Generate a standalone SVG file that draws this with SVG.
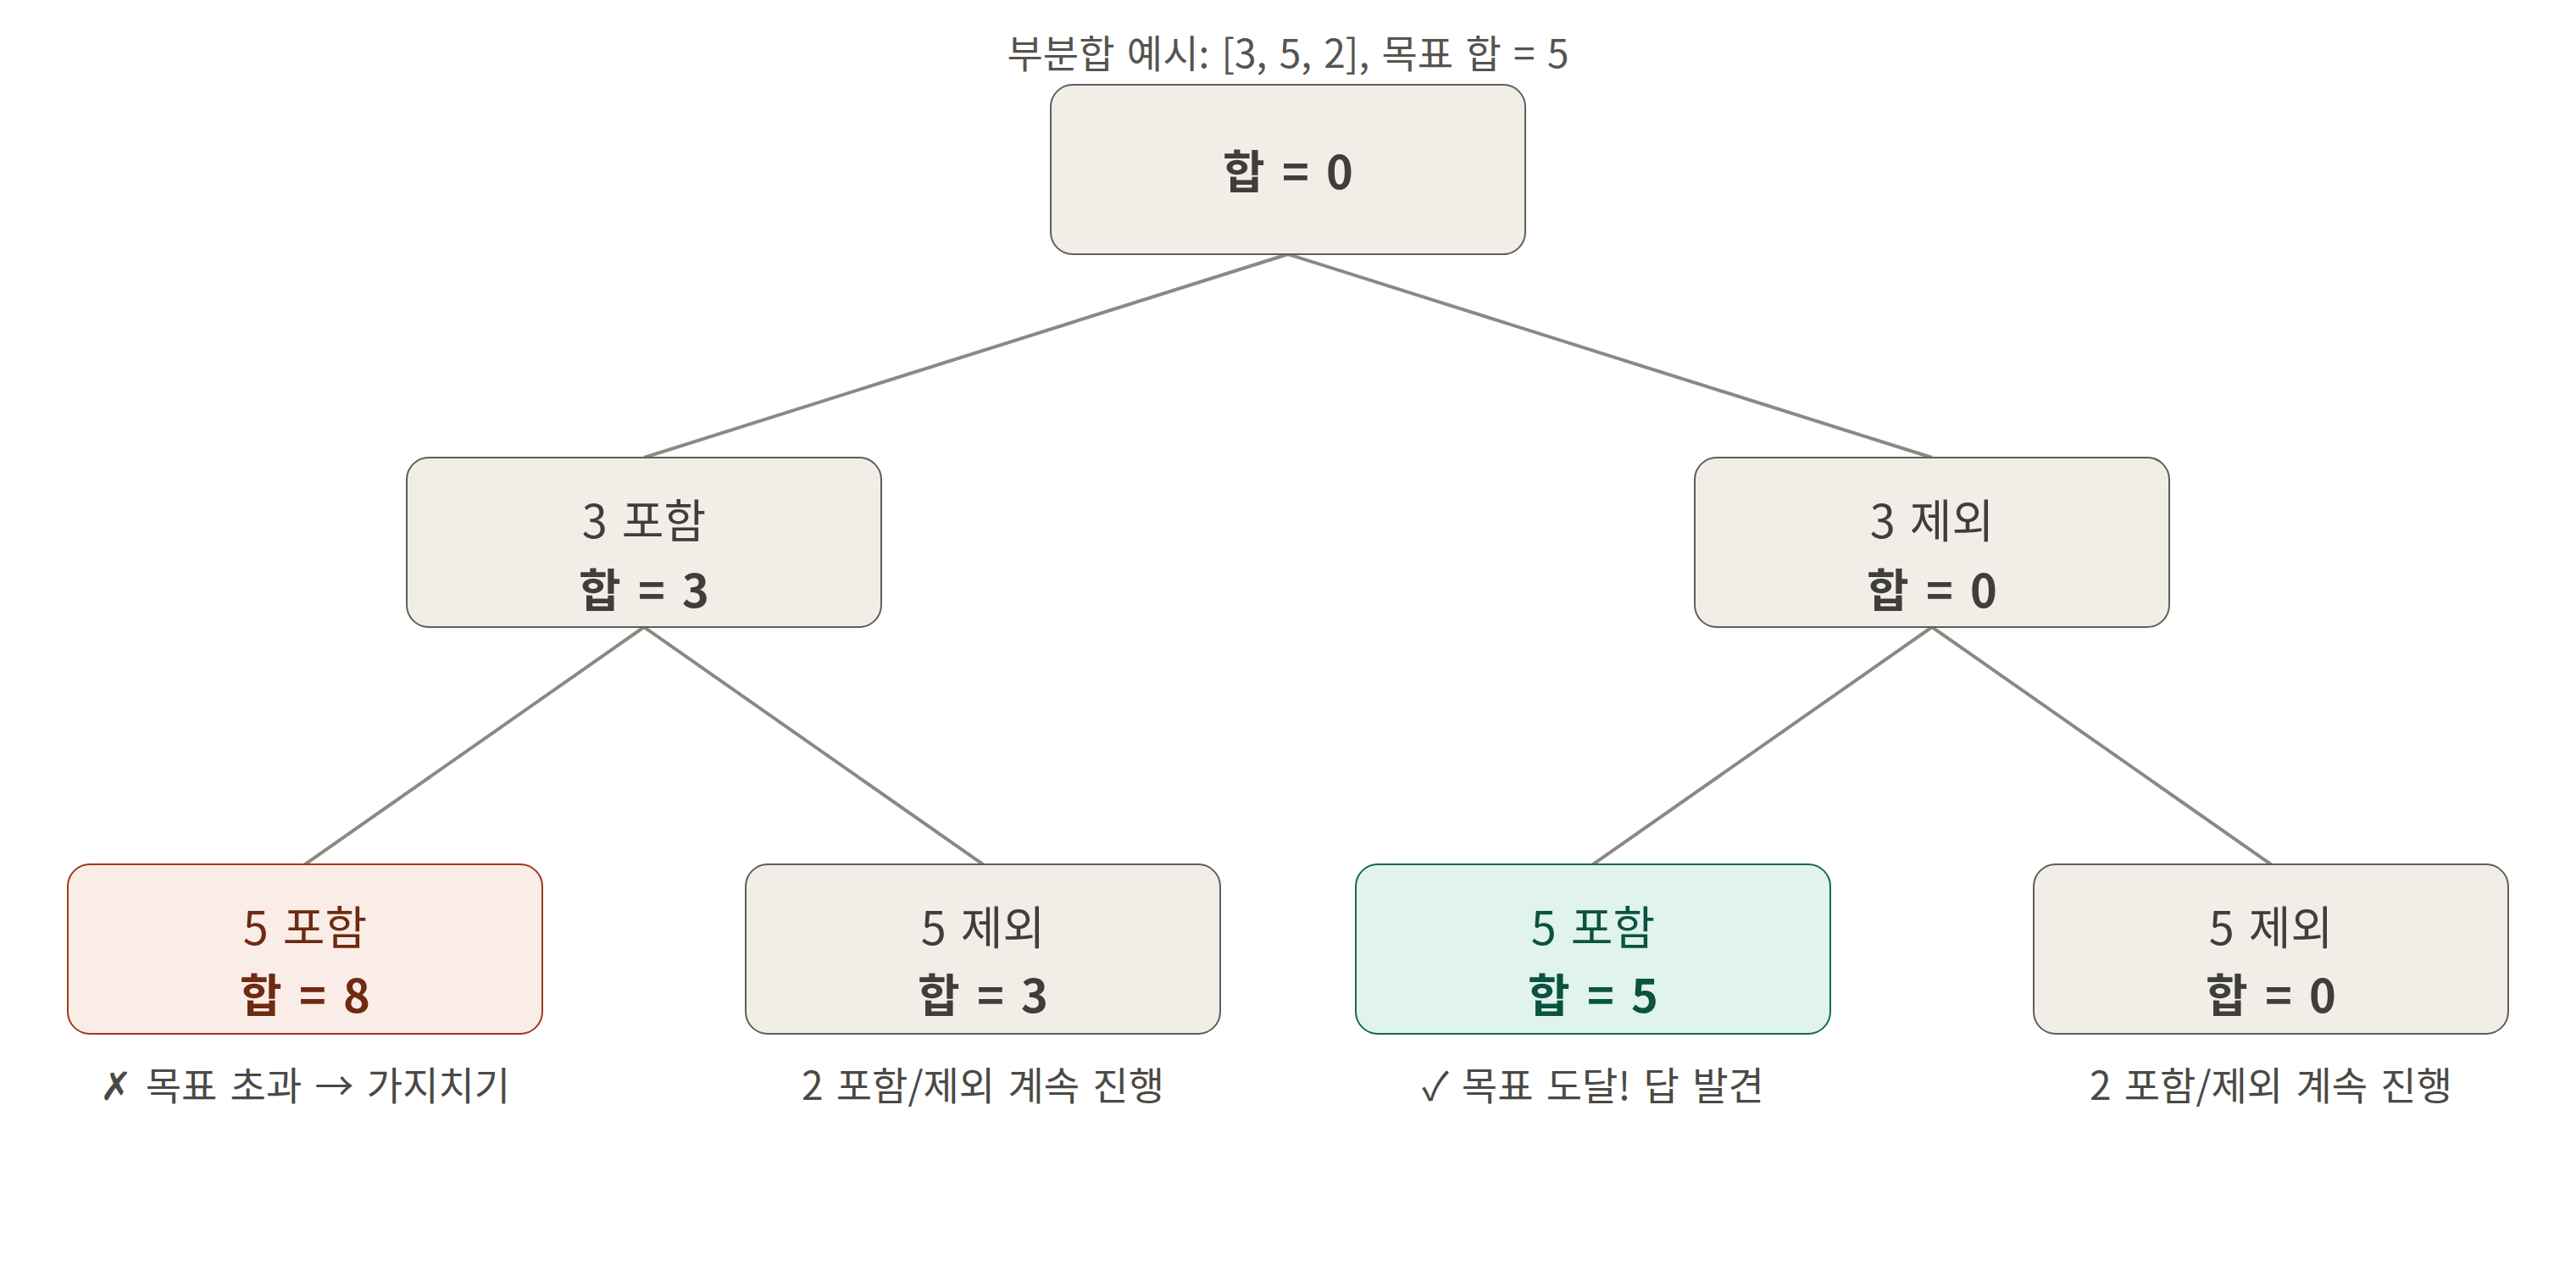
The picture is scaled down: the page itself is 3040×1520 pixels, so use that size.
<svg xmlns="http://www.w3.org/2000/svg" width="3040" height="1520" viewBox="0 0 3040 1520">
  <style>
    text { font-family: "Noto Sans CJK KR", "Noto Sans", "DejaVu Sans", sans-serif; text-anchor: middle; }
    .title { font-size: 46px; fill: #55544f; word-spacing: 4px; }
    .note { font-size: 46px; fill: #4a4945; word-spacing: 5px; }
    .box { fill: #f1eee8; stroke: #5f5e5a; stroke-width: 2; }
    .box-bad { fill: #faece6; stroke: #9c3a1c; stroke-width: 2; }
    .box-ok { fill: #e0f3ec; stroke: #17694d; stroke-width: 2; }
    .l1 { font-size: 54px; fill: #3f3e3a; word-spacing: 5px; }
    .l2 { font-size: 54px; font-weight: 700; fill: #3f3e3a; word-spacing: 8px; }
    .bad { fill: #6e2a12; }
    .ok { fill: #0b5340; }
    .edge { stroke: #8a8983; stroke-width: 4; fill: none; }
  </style>

  <text class="title" x="1520" y="80">부분합 예시: [3, 5, 2], 목표 합 = 5</text>

  <g id="connectors">
    <line class="edge" x1="1520" y1="300" x2="760" y2="540"/>
    <line class="edge" x1="1520" y1="300" x2="2280" y2="540"/>
    <line class="edge" x1="760" y1="740" x2="360" y2="1020"/>
    <line class="edge" x1="760" y1="740" x2="1160" y2="1020"/>
    <line class="edge" x1="2280" y1="740" x2="1880" y2="1020"/>
    <line class="edge" x1="2280" y1="740" x2="2680" y2="1020"/>
  </g>

  <g id="root">
    <rect class="box" x="1240" y="100" width="560" height="200" rx="26"/>
    <text class="l2" x="1520" y="223">합 = 0</text>
  </g>

  <g id="inc3">
    <rect class="box" x="480" y="540" width="560" height="200" rx="26"/>
    <text class="l1" x="760" y="635">3 포함</text>
    <text class="l2" x="760" y="717">합 = 3</text>
  </g>

  <g id="exc3">
    <rect class="box" x="2000" y="540" width="560" height="200" rx="26"/>
    <text class="l1" x="2280" y="635">3 제외</text>
    <text class="l2" x="2280" y="717">합 = 0</text>
  </g>

  <g id="inc3-inc5">
    <rect class="box-bad" x="80" y="1020" width="560" height="200" rx="26"/>
    <text class="l1 bad" x="360" y="1115">5 포함</text>
    <text class="l2 bad" x="360" y="1195">합 = 8</text>
    <text class="note" x="360" y="1298">✗ 목표 초과 → 가지치기</text>
  </g>

  <g id="inc3-exc5">
    <rect class="box" x="880" y="1020" width="560" height="200" rx="26"/>
    <text class="l1" x="1160" y="1115">5 제외</text>
    <text class="l2" x="1160" y="1195">합 = 3</text>
    <text class="note" x="1160" y="1298">2 포함/제외 계속 진행</text>
  </g>

  <g id="exc3-inc5">
    <rect class="box-ok" x="1600" y="1020" width="560" height="200" rx="26"/>
    <text class="l1 ok" x="1880" y="1115">5 포함</text>
    <text class="l2 ok" x="1880" y="1195">합 = 5</text>
    <text class="note" x="1880" y="1298">✓ 목표 도달! 답 발견</text>
  </g>

  <g id="exc3-exc5">
    <rect class="box" x="2400" y="1020" width="560" height="200" rx="26"/>
    <text class="l1" x="2680" y="1115">5 제외</text>
    <text class="l2" x="2680" y="1195">합 = 0</text>
    <text class="note" x="2680" y="1298">2 포함/제외 계속 진행</text>
  </g>
</svg>
